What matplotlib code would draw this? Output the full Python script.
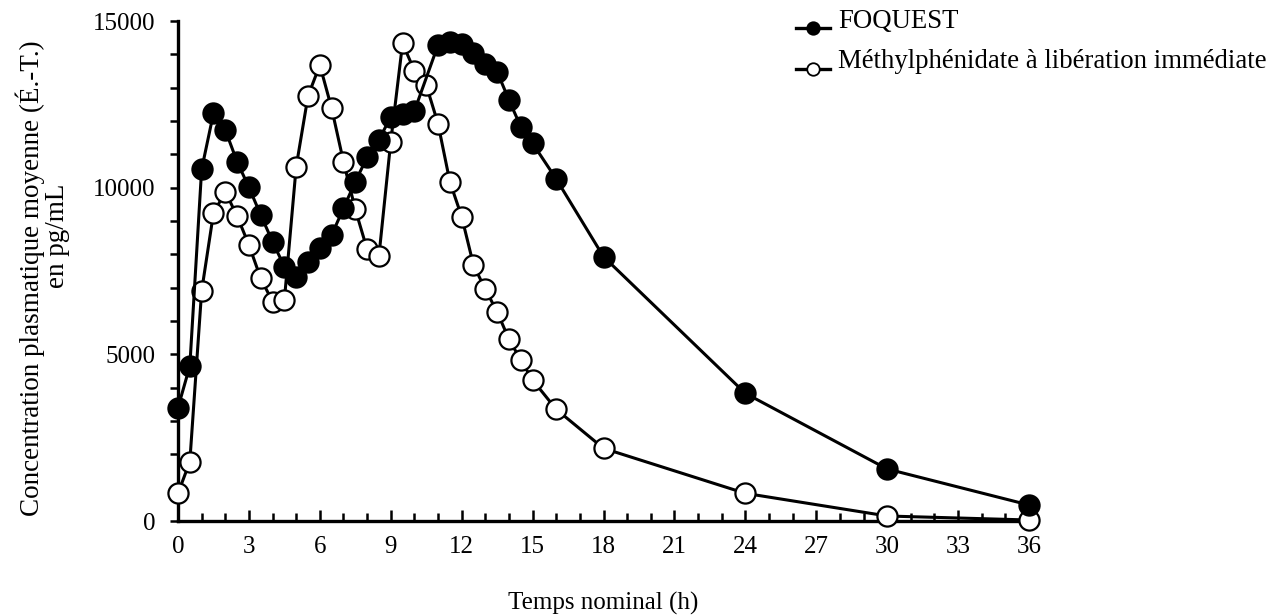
import matplotlib
matplotlib.use("Agg")
import matplotlib.pyplot as plt
from matplotlib.lines import Line2D
from matplotlib.ticker import MultipleLocator

plt.rcParams['font.family'] = ['Liberation Serif', 'DejaVu Serif']

# ---- data ----
time_foquest = [0, 0.5, 1, 1.5, 2, 2.5, 3, 3.5, 4, 4.5, 5, 5.5, 6, 6.5, 7, 7.5, 8, 8.5,
                9, 9.5, 10, 11, 11.5, 12, 12.5, 13, 13.5, 14, 14.5, 15, 16, 18, 24, 30, 36]
conc_foquest = [3400, 4650, 10550, 12230, 11730, 10780, 10010, 9180, 8380, 7630, 7330, 7780,
                8180, 8580, 9380, 10180, 10910, 11430, 12130, 12210, 12300, 14280, 14380,
                14300, 14030, 13710, 13480, 12630, 11830, 11330, 10260, 7930, 3830, 1560, 480]

time_ir = [0, 0.5, 1, 1.5, 2, 2.5, 3, 3.5, 4, 4.5, 5, 5.5, 6, 6.5, 7, 7.5, 8, 8.5,
           9, 9.5, 10, 10.5, 11, 11.5, 12, 12.5, 13, 13.5, 14, 14.5, 15, 16, 18, 24, 30, 36]
conc_ir = [830, 1780, 6900, 9230, 9880, 9150, 8280, 7280, 6580, 6630, 10630, 12750, 13680,
           12380, 10780, 9350, 8150, 7950, 11380, 14330, 13510, 13080, 11920, 10180, 9130,
           7680, 6950, 6280, 5450, 4830, 4230, 3350, 2180, 830, 150, 30]

label_foquest = "FOQUEST"
label_ir = "Méthylphénidate à libération immédiate"
xlabel = "Temps nominal (h)"
ylabel_line1 = "Concentration plasmatique moyenne (É.-T.)"
ylabel_line2 = "en pg/mL"

W, H = 1284, 616
fig = plt.figure(figsize=(W / 100, H / 100), dpi=100)
ax = fig.add_axes([178 / W, 1 - 521 / H, (1029 - 178) / W, (521 - 21) / H])

ax.plot(time_ir, conc_ir, color='black', lw=2.2, marker='o', ms=14.5,
        mfc='white', mec='black', mew=1.6, zorder=3, clip_on=False)
ax.plot(time_foquest, conc_foquest, color='black', lw=2.2, marker='o', ms=14.5,
        mfc='black', mec='black', mew=1.6, zorder=4, clip_on=False)

ax.set_xlim(0, 36)
ax.set_ylim(0, 15000)
ax.xaxis.set_major_locator(MultipleLocator(3))
ax.xaxis.set_minor_locator(MultipleLocator(1))
ax.yaxis.set_major_locator(MultipleLocator(5000))
ax.yaxis.set_minor_locator(MultipleLocator(1000))

for s in ['top', 'right']:
    ax.spines[s].set_visible(False)
for s in ['left', 'bottom']:
    ax.spines[s].set_linewidth(2.4)

ax.tick_params(axis='x', which='major', direction='in', length=8, width=1.8,
               labelsize=18, pad=11)
ax.tick_params(axis='x', which='minor', direction='in', length=6, width=1.8)
ax.tick_params(axis='y', which='both', direction='out', length=6, width=1.8,
               labelsize=18, pad=10)

ax.set_xlabel(xlabel, fontsize=18, labelpad=24)

# y label: two separate lines as in the reference
fig.text(30 / W, 1 - 278 / H, ylabel_line1, rotation=90, ha='center', va='center', fontsize=19.5)
fig.text(58 / W, 1 - 236 / H, ylabel_line2, rotation=90, ha='center', va='center', fontsize=19.5)

# legend (drawn manually for position control)
leg_rows = [(label_foquest, 'black', 22, 28), (label_ir, 'white', 62, 69)]
for text, face, ty, hy in leg_rows:
    fig.add_artist(Line2D([796 / W, 830 / W], [1 - hy / H, 1 - hy / H], color='black', lw=2.4,
                          marker='None', transform=fig.transFigure))
    fig.add_artist(Line2D([813 / W], [1 - hy / H], color='black', lw=0, marker='o', ms=9,
                          mfc=face, mec='black', mew=1.3, transform=fig.transFigure))
    fig.text(838 / W, 1 - ty / H, text, ha='left', va='center', fontsize=19.3)

fig.savefig("out.png", dpi=100)
